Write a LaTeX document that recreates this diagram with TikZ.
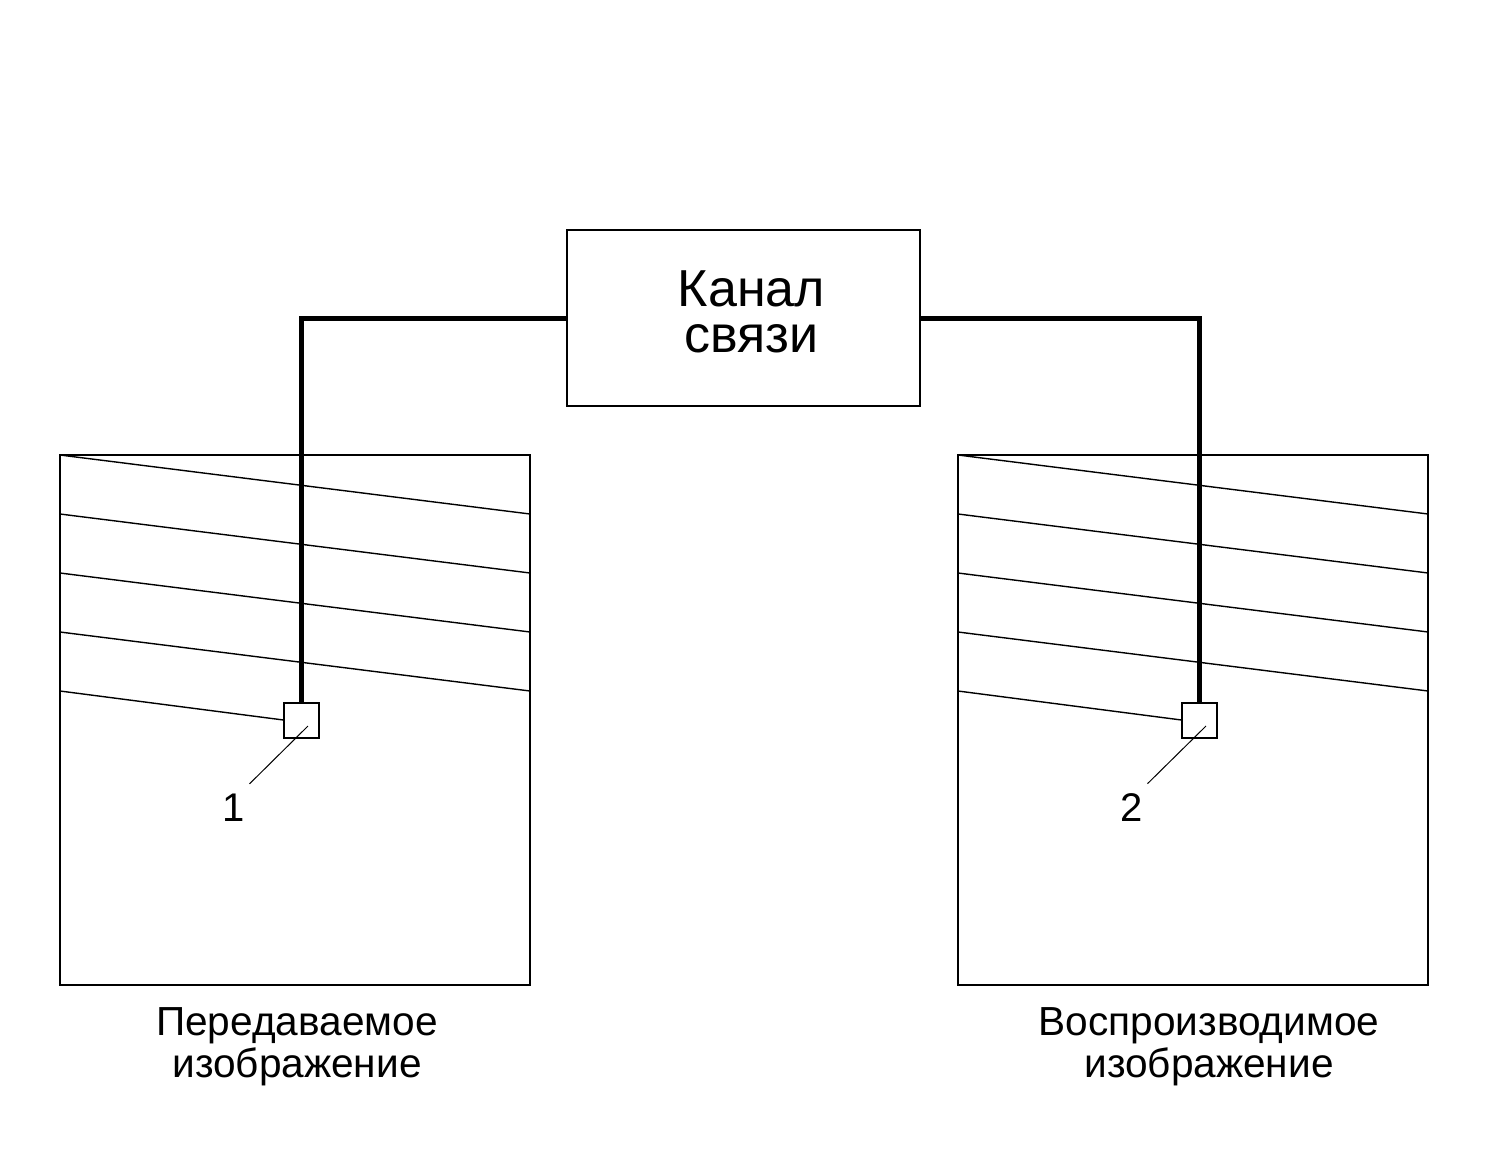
\documentclass[tikz,border=0pt]{standalone}
\usepackage{fontspec}
\setmainfont{Liberation Sans}
\usetikzlibrary{calc}
\begin{document}
\begin{tikzpicture}[x=0.5pt, y=-0.5pt,
    frame/.style={draw, line width=1pt, inner sep=0pt, outer sep=0pt},
    picbox/.style={frame, minimum width=235pt, minimum height=265pt},
    sensor/.style={frame, minimum size=17.5pt},
    wire/.style={line width=2.5pt},
    scanline/.style={line width=0.7pt},
    leader/.style={line width=0.5pt},
    num/.style={font=\fontsize{20}{22}\selectfont, inner sep=0pt},
    caption/.style={font=\fontsize{20.3}{21}\selectfont, align=center, inner sep=0pt}]
    \useasboundingbox (0,0) rectangle (1488,1152);

    \node[frame, minimum width=176.5pt, minimum height=88pt] (kanal) at (743.5,318) {};
    \node[align=center, inner sep=0pt, font=\fontsize{26}{23}\selectfont]
          (kanaltext) at ($(kanal.center)+(8,-6)$) {Канал\\связи};

    \node[picbox] (src) at (295,720) {};
    \node[picbox] (dst) at (1193,720) {};

    \node[sensor] (s1) at (301,720) {};
    \node[sensor] (s2) at (1199,720) {};

    % scan lines
    \foreach \k in {0,1,2,3} {
        \draw[scanline] ($(src.north west)+(0,59*\k)$) -- ($(src.north east)+(0,59+59*\k)$);
        \draw[scanline] ($(dst.north west)+(0,59*\k)$) -- ($(dst.north east)+(0,59+59*\k)$);
    }
    \draw[scanline] ($(src.north west)+(0,236)$) -- (s1.west);
    \draw[scanline] ($(dst.north west)+(0,236)$) -- (s2.west);

    \draw[wire] (kanal.west) -| (s1.north);
    \draw[wire] (kanal.east) -| (s2.north);

    \node[num] (n1) at (234,808) {1};
    \node[num] (n2) at (1132,808) {2};
    \draw[leader] ($(n1.north east)+(4,-10)$) -- ($(s1.center)+(7,6)$);
    \draw[leader] ($(n2.north east)+(4,-10)$) -- ($(s2.center)+(7,6)$);

    \node[caption] (c1) at (297,1047) {Передаваемое\\изображение};
    \node[caption] (c2) at (1209,1047) {Воспроизводимое\\изображение};
\end{tikzpicture}
\end{document}
